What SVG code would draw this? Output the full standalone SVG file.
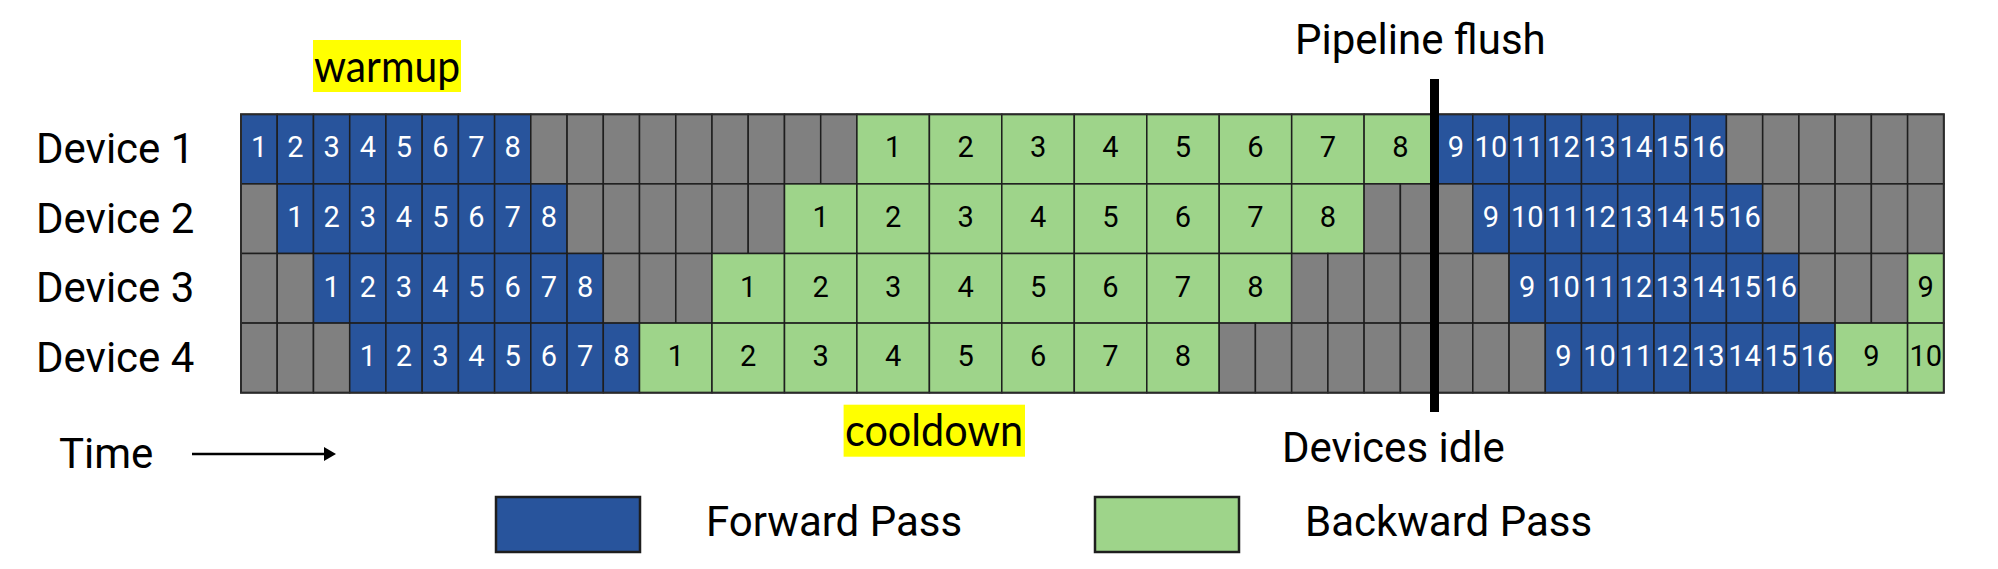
<svg xmlns="http://www.w3.org/2000/svg" width="1998" height="569" viewBox="0 0 1998 569">
<style>
.i{fill:#808080;stroke:#1e1e1e;stroke-width:1.5}
.f{fill:#28549c;stroke:#1e1e1e;stroke-width:1.5}
.b{fill:#9ed48a;stroke:#1e1e1e;stroke-width:1.5}
.nf{font-family:Roboto,"Liberation Sans",sans-serif;font-size:29px;fill:#fff;text-anchor:middle}
.nb{font-family:Roboto,"Liberation Sans",sans-serif;font-size:29px;fill:#000;text-anchor:middle}
.lbl{font-family:Roboto,"Liberation Sans",sans-serif;font-size:42px;fill:#000}
.hl{font-family:Lato,"Open Sans",sans-serif;font-size:44px;fill:#000}
</style>
<defs>
<marker id="ah" markerWidth="12" markerHeight="14" refX="0" refY="7" orient="auto" markerUnits="userSpaceOnUse">
<path d="M0,0 L12,7 L0,14 Z" fill="#000"/>
</marker>
</defs>

<g id="labels">
<text class="lbl" x="36" y="163">Device 1</text>
<text class="lbl" x="36" y="232.5">Device 2</text>
<text class="lbl" x="36" y="302">Device 3</text>
<text class="lbl" x="36" y="371.5">Device 4</text>
</g>

<g id="warmup">
<rect x="313" y="40" width="148" height="52" fill="#ffff00"/>
<text class="hl" x="314" y="81.7" textLength="146" lengthAdjust="spacingAndGlyphs">warmup</text>
</g>

<g id="cooldown">
<rect x="843.6" y="404.7" width="181.4" height="52" fill="#ffff00"/>
<text class="hl" x="845" y="445.7" textLength="178" lengthAdjust="spacingAndGlyphs">cooldown</text>
</g>

<g id="device1" transform="translate(0,114.3)">
<rect class="f" x="241" y="0" width="36.23" height="69.6"/>
<rect class="f" x="277.2" y="0" width="36.23" height="69.6"/>
<rect class="f" x="313.5" y="0" width="36.23" height="69.6"/>
<rect class="f" x="349.7" y="0" width="36.23" height="69.6"/>
<rect class="f" x="385.9" y="0" width="36.23" height="69.6"/>
<rect class="f" x="422.2" y="0" width="36.23" height="69.6"/>
<rect class="f" x="458.4" y="0" width="36.23" height="69.6"/>
<rect class="f" x="494.6" y="0" width="36.23" height="69.6"/>
<rect class="i" x="530.8" y="0" width="36.23" height="69.6"/>
<rect class="i" x="567.1" y="0" width="36.23" height="69.6"/>
<rect class="i" x="603.3" y="0" width="36.23" height="69.6"/>
<rect class="i" x="639.5" y="0" width="36.23" height="69.6"/>
<rect class="i" x="675.8" y="0" width="36.23" height="69.6"/>
<rect class="i" x="712.0" y="0" width="36.23" height="69.6"/>
<rect class="i" x="748.2" y="0" width="36.23" height="69.6"/>
<rect class="i" x="784.5" y="0" width="36.23" height="69.6"/>
<rect class="i" x="820.7" y="0" width="36.23" height="69.6"/>
<rect class="b" x="856.9" y="0" width="72.46" height="69.6"/>
<rect class="b" x="929.4" y="0" width="72.46" height="69.6"/>
<rect class="b" x="1001.8" y="0" width="72.46" height="69.6"/>
<rect class="b" x="1074.3" y="0" width="72.46" height="69.6"/>
<rect class="b" x="1146.8" y="0" width="72.46" height="69.6"/>
<rect class="b" x="1219.2" y="0" width="72.46" height="69.6"/>
<rect class="b" x="1291.7" y="0" width="72.46" height="69.6"/>
<rect class="b" x="1364.1" y="0" width="72.46" height="69.6"/>
<rect class="f" x="1436.6" y="0" width="36.23" height="69.6"/>
<rect class="f" x="1472.8" y="0" width="36.23" height="69.6"/>
<rect class="f" x="1509.1" y="0" width="36.23" height="69.6"/>
<rect class="f" x="1545.3" y="0" width="36.23" height="69.6"/>
<rect class="f" x="1581.5" y="0" width="36.23" height="69.6"/>
<rect class="f" x="1617.7" y="0" width="36.23" height="69.6"/>
<rect class="f" x="1654.0" y="0" width="36.23" height="69.6"/>
<rect class="f" x="1690.2" y="0" width="36.23" height="69.6"/>
<rect class="i" x="1726.4" y="0" width="36.23" height="69.6"/>
<rect class="i" x="1762.7" y="0" width="36.23" height="69.6"/>
<rect class="i" x="1798.9" y="0" width="36.23" height="69.6"/>
<rect class="i" x="1835.1" y="0" width="36.23" height="69.6"/>
<rect class="i" x="1871.4" y="0" width="36.23" height="69.6"/>
<rect class="i" x="1907.6" y="0" width="36.23" height="69.6"/>
<text class="nf" x="259.1" y="43">1</text>
<text class="nf" x="295.3" y="43">2</text>
<text class="nf" x="331.6" y="43">3</text>
<text class="nf" x="367.8" y="43">4</text>
<text class="nf" x="404.0" y="43">5</text>
<text class="nf" x="440.3" y="43">6</text>
<text class="nf" x="476.5" y="43">7</text>
<text class="nf" x="512.7" y="43">8</text>
<text class="nb" x="893.1" y="43">1</text>
<text class="nb" x="965.6" y="43">2</text>
<text class="nb" x="1038.1" y="43">3</text>
<text class="nb" x="1110.5" y="43">4</text>
<text class="nb" x="1183.0" y="43">5</text>
<text class="nb" x="1255.4" y="43">6</text>
<text class="nb" x="1327.9" y="43">7</text>
<text class="nb" x="1400.4" y="43">8</text>
<text class="nf" x="1456" y="43">9</text>
<text class="nf" x="1490.9" y="43">10</text>
<text class="nf" x="1527.2" y="43">11</text>
<text class="nf" x="1563.4" y="43">12</text>
<text class="nf" x="1599.6" y="43">13</text>
<text class="nf" x="1635.9" y="43">14</text>
<text class="nf" x="1672.1" y="43">15</text>
<text class="nf" x="1708.3" y="43">16</text>
</g>

<g id="device2" transform="translate(0,183.9)">
<rect class="i" x="241" y="0" width="36.23" height="69.6"/>
<rect class="f" x="277.2" y="0" width="36.23" height="69.6"/>
<rect class="f" x="313.5" y="0" width="36.23" height="69.6"/>
<rect class="f" x="349.7" y="0" width="36.23" height="69.6"/>
<rect class="f" x="385.9" y="0" width="36.23" height="69.6"/>
<rect class="f" x="422.2" y="0" width="36.23" height="69.6"/>
<rect class="f" x="458.4" y="0" width="36.23" height="69.6"/>
<rect class="f" x="494.6" y="0" width="36.23" height="69.6"/>
<rect class="f" x="530.8" y="0" width="36.23" height="69.6"/>
<rect class="i" x="567.1" y="0" width="36.23" height="69.6"/>
<rect class="i" x="603.3" y="0" width="36.23" height="69.6"/>
<rect class="i" x="639.5" y="0" width="36.23" height="69.6"/>
<rect class="i" x="675.8" y="0" width="36.23" height="69.6"/>
<rect class="i" x="712.0" y="0" width="36.23" height="69.6"/>
<rect class="i" x="748.2" y="0" width="36.23" height="69.6"/>
<rect class="b" x="784.5" y="0" width="72.46" height="69.6"/>
<rect class="b" x="856.9" y="0" width="72.46" height="69.6"/>
<rect class="b" x="929.4" y="0" width="72.46" height="69.6"/>
<rect class="b" x="1001.8" y="0" width="72.46" height="69.6"/>
<rect class="b" x="1074.3" y="0" width="72.46" height="69.6"/>
<rect class="b" x="1146.8" y="0" width="72.46" height="69.6"/>
<rect class="b" x="1219.2" y="0" width="72.46" height="69.6"/>
<rect class="b" x="1291.7" y="0" width="72.46" height="69.6"/>
<rect class="i" x="1364.1" y="0" width="36.23" height="69.6"/>
<rect class="i" x="1400.4" y="0" width="36.23" height="69.6"/>
<rect class="i" x="1436.6" y="0" width="36.23" height="69.6"/>
<rect class="f" x="1472.8" y="0" width="36.23" height="69.6"/>
<rect class="f" x="1509.1" y="0" width="36.23" height="69.6"/>
<rect class="f" x="1545.3" y="0" width="36.23" height="69.6"/>
<rect class="f" x="1581.5" y="0" width="36.23" height="69.6"/>
<rect class="f" x="1617.7" y="0" width="36.23" height="69.6"/>
<rect class="f" x="1654.0" y="0" width="36.23" height="69.6"/>
<rect class="f" x="1690.2" y="0" width="36.23" height="69.6"/>
<rect class="f" x="1726.4" y="0" width="36.23" height="69.6"/>
<rect class="i" x="1762.7" y="0" width="36.23" height="69.6"/>
<rect class="i" x="1798.9" y="0" width="36.23" height="69.6"/>
<rect class="i" x="1835.1" y="0" width="36.23" height="69.6"/>
<rect class="i" x="1871.4" y="0" width="36.23" height="69.6"/>
<rect class="i" x="1907.6" y="0" width="36.23" height="69.6"/>
<text class="nf" x="295.3" y="43">1</text>
<text class="nf" x="331.6" y="43">2</text>
<text class="nf" x="367.8" y="43">3</text>
<text class="nf" x="404.0" y="43">4</text>
<text class="nf" x="440.3" y="43">5</text>
<text class="nf" x="476.5" y="43">6</text>
<text class="nf" x="512.7" y="43">7</text>
<text class="nf" x="549.0" y="43">8</text>
<text class="nb" x="820.7" y="43">1</text>
<text class="nb" x="893.1" y="43">2</text>
<text class="nb" x="965.6" y="43">3</text>
<text class="nb" x="1038.1" y="43">4</text>
<text class="nb" x="1110.5" y="43">5</text>
<text class="nb" x="1183.0" y="43">6</text>
<text class="nb" x="1255.4" y="43">7</text>
<text class="nb" x="1327.9" y="43">8</text>
<text class="nf" x="1490.9" y="43">9</text>
<text class="nf" x="1527.2" y="43">10</text>
<text class="nf" x="1563.4" y="43">11</text>
<text class="nf" x="1599.6" y="43">12</text>
<text class="nf" x="1635.9" y="43">13</text>
<text class="nf" x="1672.1" y="43">14</text>
<text class="nf" x="1708.3" y="43">15</text>
<text class="nf" x="1744.5" y="43">16</text>
</g>

<g id="device3" transform="translate(0,253.5)">
<rect class="i" x="241" y="0" width="36.23" height="69.6"/>
<rect class="i" x="277.2" y="0" width="36.23" height="69.6"/>
<rect class="f" x="313.5" y="0" width="36.23" height="69.6"/>
<rect class="f" x="349.7" y="0" width="36.23" height="69.6"/>
<rect class="f" x="385.9" y="0" width="36.23" height="69.6"/>
<rect class="f" x="422.2" y="0" width="36.23" height="69.6"/>
<rect class="f" x="458.4" y="0" width="36.23" height="69.6"/>
<rect class="f" x="494.6" y="0" width="36.23" height="69.6"/>
<rect class="f" x="530.8" y="0" width="36.23" height="69.6"/>
<rect class="f" x="567.1" y="0" width="36.23" height="69.6"/>
<rect class="i" x="603.3" y="0" width="36.23" height="69.6"/>
<rect class="i" x="639.5" y="0" width="36.23" height="69.6"/>
<rect class="i" x="675.8" y="0" width="36.23" height="69.6"/>
<rect class="b" x="712.0" y="0" width="72.46" height="69.6"/>
<rect class="b" x="784.5" y="0" width="72.46" height="69.6"/>
<rect class="b" x="856.9" y="0" width="72.46" height="69.6"/>
<rect class="b" x="929.4" y="0" width="72.46" height="69.6"/>
<rect class="b" x="1001.8" y="0" width="72.46" height="69.6"/>
<rect class="b" x="1074.3" y="0" width="72.46" height="69.6"/>
<rect class="b" x="1146.8" y="0" width="72.46" height="69.6"/>
<rect class="b" x="1219.2" y="0" width="72.46" height="69.6"/>
<rect class="i" x="1291.7" y="0" width="36.23" height="69.6"/>
<rect class="i" x="1327.9" y="0" width="36.23" height="69.6"/>
<rect class="i" x="1364.1" y="0" width="36.23" height="69.6"/>
<rect class="i" x="1400.4" y="0" width="36.23" height="69.6"/>
<rect class="i" x="1436.6" y="0" width="36.23" height="69.6"/>
<rect class="i" x="1472.8" y="0" width="36.23" height="69.6"/>
<rect class="f" x="1509.1" y="0" width="36.23" height="69.6"/>
<rect class="f" x="1545.3" y="0" width="36.23" height="69.6"/>
<rect class="f" x="1581.5" y="0" width="36.23" height="69.6"/>
<rect class="f" x="1617.7" y="0" width="36.23" height="69.6"/>
<rect class="f" x="1654.0" y="0" width="36.23" height="69.6"/>
<rect class="f" x="1690.2" y="0" width="36.23" height="69.6"/>
<rect class="f" x="1726.4" y="0" width="36.23" height="69.6"/>
<rect class="f" x="1762.7" y="0" width="36.23" height="69.6"/>
<rect class="i" x="1798.9" y="0" width="36.23" height="69.6"/>
<rect class="i" x="1835.1" y="0" width="36.23" height="69.6"/>
<rect class="i" x="1871.4" y="0" width="36.23" height="69.6"/>
<rect class="b" x="1907.6" y="0" width="36.23" height="69.6"/>
<text class="nf" x="331.6" y="43">1</text>
<text class="nf" x="367.8" y="43">2</text>
<text class="nf" x="404.0" y="43">3</text>
<text class="nf" x="440.3" y="43">4</text>
<text class="nf" x="476.5" y="43">5</text>
<text class="nf" x="512.7" y="43">6</text>
<text class="nf" x="549.0" y="43">7</text>
<text class="nf" x="585.2" y="43">8</text>
<text class="nb" x="748.2" y="43">1</text>
<text class="nb" x="820.7" y="43">2</text>
<text class="nb" x="893.1" y="43">3</text>
<text class="nb" x="965.6" y="43">4</text>
<text class="nb" x="1038.1" y="43">5</text>
<text class="nb" x="1110.5" y="43">6</text>
<text class="nb" x="1183.0" y="43">7</text>
<text class="nb" x="1255.4" y="43">8</text>
<text class="nf" x="1527.2" y="43">9</text>
<text class="nf" x="1563.4" y="43">10</text>
<text class="nf" x="1599.6" y="43">11</text>
<text class="nf" x="1635.9" y="43">12</text>
<text class="nf" x="1672.1" y="43">13</text>
<text class="nf" x="1708.3" y="43">14</text>
<text class="nf" x="1744.5" y="43">15</text>
<text class="nf" x="1780.8" y="43">16</text>
<text class="nb" x="1925.7" y="43">9</text>
</g>

<g id="device4" transform="translate(0,323.1)">
<rect class="i" x="241" y="0" width="36.23" height="69.6"/>
<rect class="i" x="277.2" y="0" width="36.23" height="69.6"/>
<rect class="i" x="313.5" y="0" width="36.23" height="69.6"/>
<rect class="f" x="349.7" y="0" width="36.23" height="69.6"/>
<rect class="f" x="385.9" y="0" width="36.23" height="69.6"/>
<rect class="f" x="422.2" y="0" width="36.23" height="69.6"/>
<rect class="f" x="458.4" y="0" width="36.23" height="69.6"/>
<rect class="f" x="494.6" y="0" width="36.23" height="69.6"/>
<rect class="f" x="530.8" y="0" width="36.23" height="69.6"/>
<rect class="f" x="567.1" y="0" width="36.23" height="69.6"/>
<rect class="f" x="603.3" y="0" width="36.23" height="69.6"/>
<rect class="b" x="639.5" y="0" width="72.46" height="69.6"/>
<rect class="b" x="712.0" y="0" width="72.46" height="69.6"/>
<rect class="b" x="784.5" y="0" width="72.46" height="69.6"/>
<rect class="b" x="856.9" y="0" width="72.46" height="69.6"/>
<rect class="b" x="929.4" y="0" width="72.46" height="69.6"/>
<rect class="b" x="1001.8" y="0" width="72.46" height="69.6"/>
<rect class="b" x="1074.3" y="0" width="72.46" height="69.6"/>
<rect class="b" x="1146.8" y="0" width="72.46" height="69.6"/>
<rect class="i" x="1219.2" y="0" width="36.23" height="69.6"/>
<rect class="i" x="1255.4" y="0" width="36.23" height="69.6"/>
<rect class="i" x="1291.7" y="0" width="36.23" height="69.6"/>
<rect class="i" x="1327.9" y="0" width="36.23" height="69.6"/>
<rect class="i" x="1364.1" y="0" width="36.23" height="69.6"/>
<rect class="i" x="1400.4" y="0" width="36.23" height="69.6"/>
<rect class="i" x="1436.6" y="0" width="36.23" height="69.6"/>
<rect class="i" x="1472.8" y="0" width="36.23" height="69.6"/>
<rect class="i" x="1509.1" y="0" width="36.23" height="69.6"/>
<rect class="f" x="1545.3" y="0" width="36.23" height="69.6"/>
<rect class="f" x="1581.5" y="0" width="36.23" height="69.6"/>
<rect class="f" x="1617.7" y="0" width="36.23" height="69.6"/>
<rect class="f" x="1654.0" y="0" width="36.23" height="69.6"/>
<rect class="f" x="1690.2" y="0" width="36.23" height="69.6"/>
<rect class="f" x="1726.4" y="0" width="36.23" height="69.6"/>
<rect class="f" x="1762.7" y="0" width="36.23" height="69.6"/>
<rect class="f" x="1798.9" y="0" width="36.23" height="69.6"/>
<rect class="b" x="1835.1" y="0" width="72.46" height="69.6"/>
<rect class="b" x="1907.6" y="0" width="36.23" height="69.6"/>
<text class="nf" x="367.8" y="43">1</text>
<text class="nf" x="404.0" y="43">2</text>
<text class="nf" x="440.3" y="43">3</text>
<text class="nf" x="476.5" y="43">4</text>
<text class="nf" x="512.7" y="43">5</text>
<text class="nf" x="549.0" y="43">6</text>
<text class="nf" x="585.2" y="43">7</text>
<text class="nf" x="621.4" y="43">8</text>
<text class="nb" x="675.8" y="43">1</text>
<text class="nb" x="748.2" y="43">2</text>
<text class="nb" x="820.7" y="43">3</text>
<text class="nb" x="893.1" y="43">4</text>
<text class="nb" x="965.6" y="43">5</text>
<text class="nb" x="1038.1" y="43">6</text>
<text class="nb" x="1110.5" y="43">7</text>
<text class="nb" x="1183.0" y="43">8</text>
<text class="nf" x="1563.4" y="43">9</text>
<text class="nf" x="1599.6" y="43">10</text>
<text class="nf" x="1635.9" y="43">11</text>
<text class="nf" x="1672.1" y="43">12</text>
<text class="nf" x="1708.3" y="43">13</text>
<text class="nf" x="1744.5" y="43">14</text>
<text class="nf" x="1780.8" y="43">15</text>
<text class="nf" x="1817.0" y="43">16</text>
<text class="nb" x="1871.4" y="43">9</text>
<text class="nb" x="1925.7" y="43">10</text>
</g>

<g id="grid-border">
<rect x="241" y="114.3" width="1702.8" height="278.4" fill="none" stroke="#2a2a2a" stroke-width="2"/>
</g>

<g id="flush">
<rect x="1430" y="79" width="9" height="333" fill="#000"/>
<text class="lbl" x="1295" y="54.3">Pipeline flush</text>
<text class="lbl" x="1282" y="462.3">Devices idle</text>
</g>

<g id="connectors">
<line x1="192" y1="454" x2="324" y2="454" stroke="#000" stroke-width="2.7" marker-end="url(#ah)"/>
</g>

<g id="time">
<text class="lbl" x="59" y="468.3">Time</text>
</g>

<g id="legend-forward">
<rect x="496" y="497" width="144" height="55" fill="#28549c" stroke="#1e1e1e" stroke-width="2.5"/>
<text class="lbl" x="706" y="536.3">Forward Pass</text>
</g>

<g id="legend-backward">
<rect x="1095" y="497" width="144" height="55" fill="#9ed48a" stroke="#1e1e1e" stroke-width="2.5"/>
<text class="lbl" x="1305" y="536.3">Backward Pass</text>
</g>
</svg>
